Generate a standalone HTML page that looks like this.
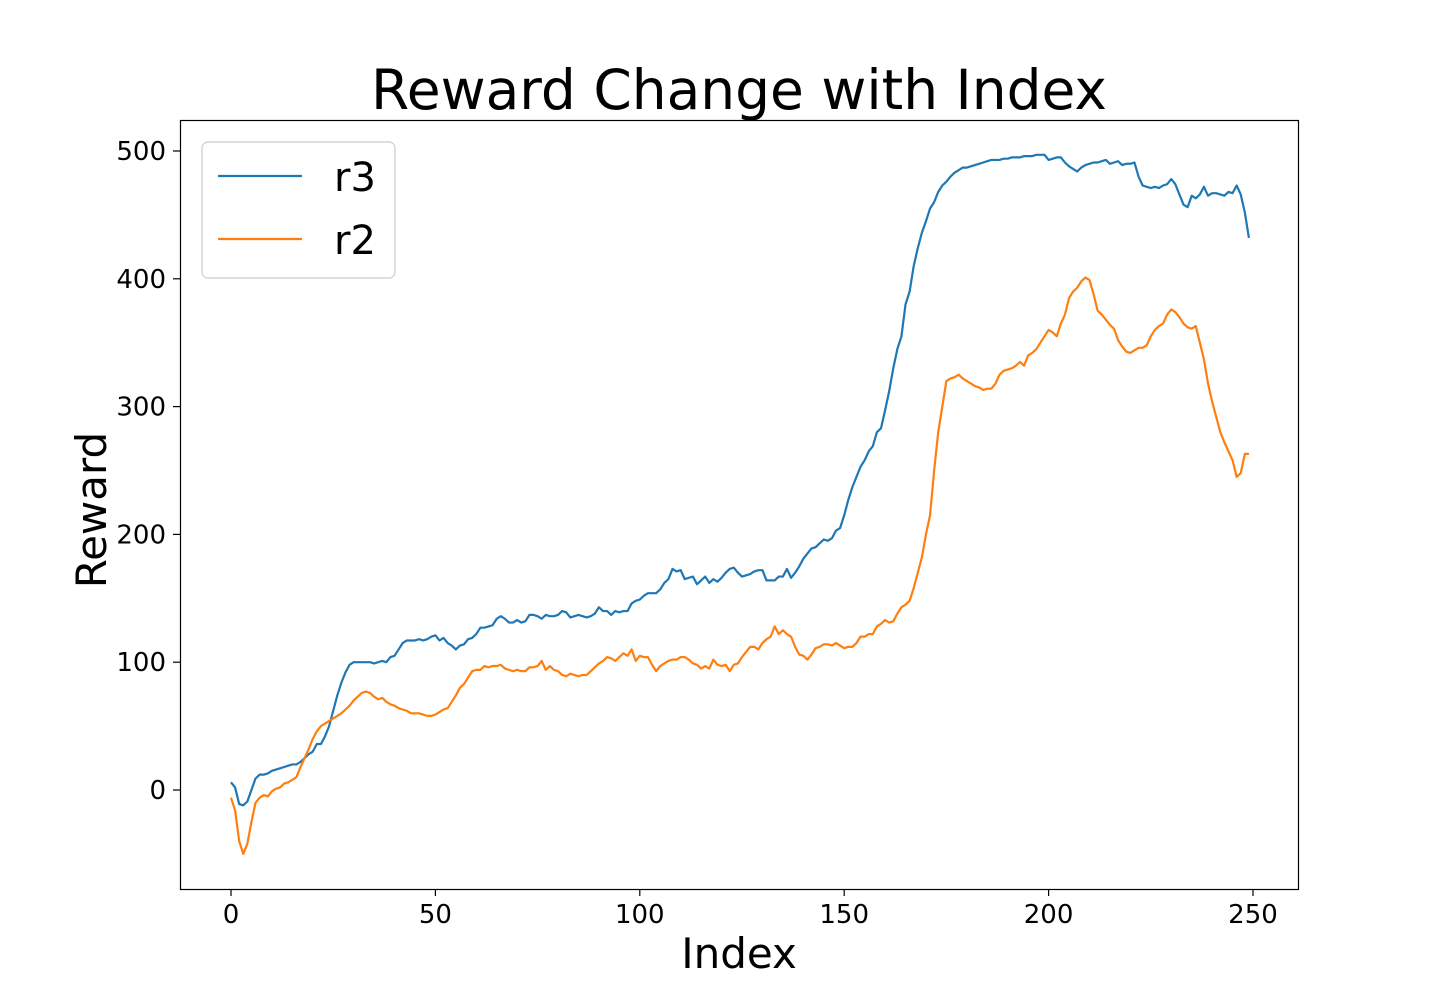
<!DOCTYPE html>
<html><head><meta charset="utf-8"><style>
html,body{margin:0;padding:0;background:#fff;}
svg{display:block;font-family:"DejaVu Sans","Liberation Sans",sans-serif;}
</style></head><body>
<svg id="chart" width="1442" height="1000" viewBox="0 0 1442 1000">
<rect width="1442" height="1000" fill="#fff"/>
<text x="739" y="109" font-size="55" text-anchor="middle">Reward Change with Index</text>
<g id="xticks"></g>
<g id="yticks"></g>
<g id="series"></g>
<rect x="180.5" y="120.5" width="1118" height="769" fill="none" stroke="#000" stroke-width="1.2"/>
<text x="739" y="968" font-size="42" text-anchor="middle">Index</text>
<text transform="translate(106,510) rotate(-90)" font-size="42" text-anchor="middle">Reward</text>
<g>
<rect x="202" y="142" width="193" height="136" rx="6" fill="#fff" stroke="#ccc" stroke-width="1.2"/>
<line x1="218" y1="176" x2="302" y2="176" stroke="#1f77b4" stroke-width="2.2"/>
<text x="334" y="191" font-size="40">r3</text>
<line x1="218" y1="239" x2="302" y2="239" stroke="#ff7f0e" stroke-width="2.2"/>
<text x="334" y="254" font-size="40">r2</text>
</g>
</svg>
<script>
const xTickValues = [0,50,100,150,200,250];
const yTickValues = [0,100,200,300,400,500];
const r3 = [6,2,-11,-12,-9,0,9,12,12,13,
15,16,17,18,19,20,20,22,25,28,
30,36,36,42,50,62,74,84,92,98,
100,100,100,100,100,99,100,101,100,104,
105,110,115,117,117,117,118,117,118,120,
121,117,119,115,113,110,113,114,118,119,
122,127,127,128,129,134,136,134,131,131,
133,131,132,137,137,136,134,137,136,136,
137,140,139,135,136,137,136,135,136,138,
143,140,140,137,140,139,140,140,146,148,
149,152,154,154,154,157,162,165,173,171,
172,165,166,167,161,164,167,162,165,163,
166,170,173,174,170,167,168,169,171,172,
172,164,164,164,167,167,173,166,170,175,
181,185,189,190,193,196,195,197,203,205,
215,227,237,245,253,258,265,269,280,283,
297,312,330,345,355,380,390,410,424,436,
445,455,460,468,473,476,480,483,485,487,
487,488,489,490,491,492,493,493,493,494,
494,495,495,495,496,496,496,497,497,497,
493,494,495,495,491,488,486,484,487,489,
490,491,491,492,493,490,491,492,489,490,
490,491,480,473,472,471,472,471,473,474,
478,474,466,458,456,465,463,466,472,465,
467,467,466,465,468,467,473,466,452,432];
const r2 = [-6,-16,-40,-50,-42,-25,-10,-6,-4,-5,
-1,1,2,5,6,8,10,18,25,32,
40,46,50,52,54,56,58,60,63,66,
70,73,76,77,76,73,71,72,69,67,
66,64,63,62,60,60,60,59,58,58,
59,61,63,64,69,74,80,83,88,93,
94,94,97,96,97,97,98,95,94,93,
94,93,93,96,96,97,101,94,97,94,
93,90,89,91,90,89,90,90,93,96,
99,101,104,103,101,104,107,105,110,101,
105,104,104,98,93,97,99,101,102,102,
104,104,102,99,98,95,97,95,102,98,
97,98,93,98,99,104,108,112,112,110,
115,118,120,128,122,125,122,120,112,106,
105,102,106,111,112,114,114,113,115,113,
111,112,112,115,120,120,122,122,128,130,
133,131,132,138,143,145,148,158,170,182,
200,215,250,280,300,320,322,323,325,322,
320,318,316,315,313,314,314,318,325,328,
329,330,332,335,332,340,342,345,350,355,
360,358,355,365,372,385,390,393,398,401,
399,388,375,372,368,364,361,352,347,343,
342,344,346,346,348,355,360,363,365,372,
376,374,370,365,362,361,363,350,337,318,
304,292,280,272,265,258,245,248,263,263];
const NS = "http://www.w3.org/2000/svg";
function xS(v){ return 231 + v * (1253 - 231) / 250; }
function yS(v){ return 790 - v * (790 - 151) / 500; }
const xg = document.getElementById('xticks');
xTickValues.forEach(v => {
  const l = document.createElementNS(NS,'line');
  l.setAttribute('x1', xS(v)); l.setAttribute('x2', xS(v));
  l.setAttribute('y1', 889); l.setAttribute('y2', 896);
  l.setAttribute('stroke', '#000'); l.setAttribute('stroke-width', '1.2');
  
  
  xg.appendChild(l);
  const t = document.createElementNS(NS,'text');
  t.setAttribute('x', xS(v)); t.setAttribute('y', 923);
  t.setAttribute('font-size', '26'); t.setAttribute('text-anchor', 'middle');
  t.textContent = v;
  
  
  xg.appendChild(t);
});
const yg = document.getElementById('yticks');
yTickValues.forEach(v => {
  const l = document.createElementNS(NS,'line');
  l.setAttribute('x1', 173); l.setAttribute('x2', 180);
  l.setAttribute('y1', yS(v)); l.setAttribute('y2', yS(v));
  l.setAttribute('stroke', '#000'); l.setAttribute('stroke-width', '1.2');
  
  
  yg.appendChild(l);
  const t = document.createElementNS(NS,'text');
  t.setAttribute('x', 166); t.setAttribute('y', yS(v) + 9);
  t.setAttribute('font-size', '26'); t.setAttribute('text-anchor', 'end');
  t.textContent = v;
  
  
  yg.appendChild(t);
});
const sg = document.getElementById('series');
function drawLine(data, color, name){
  const p = document.createElementNS(NS,'path');
  p.setAttribute('d', data.map((v,i) => (i ? 'L' : 'M') + xS(i).toFixed(2) + ' ' + yS(v).toFixed(2)).join(' '));
  p.setAttribute('fill', 'none'); p.setAttribute('stroke', color);
  p.setAttribute('stroke-width', '2.2'); p.setAttribute('stroke-linejoin', 'round');
  
  
  sg.appendChild(p);
}
drawLine(r3, '#1f77b4', 'line-r3');
drawLine(r2, '#ff7f0e', 'line-r2');
</script>
</body></html>
